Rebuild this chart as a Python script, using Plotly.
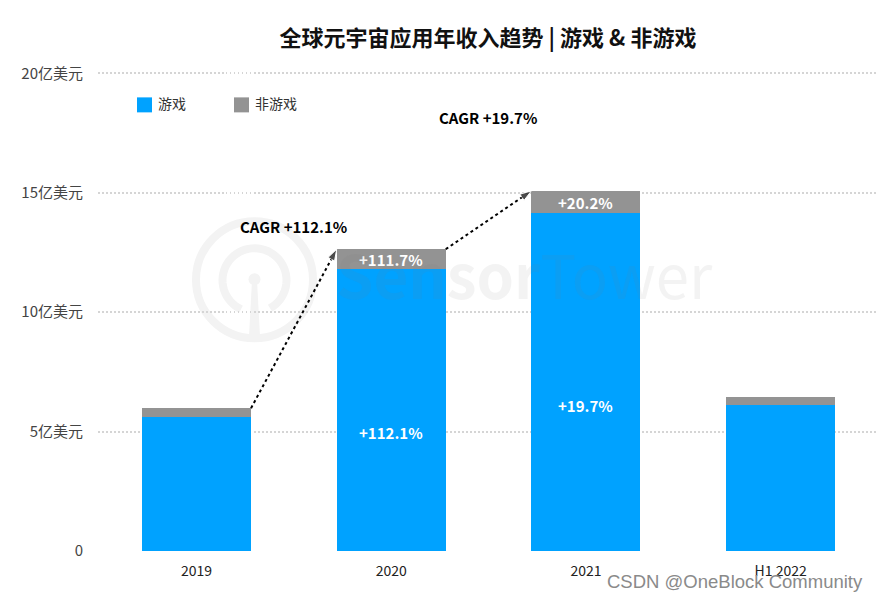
import math
import plotly.graph_objects as go

categories = ["2019", "2020", "2021", "H1 2022"]
games = [5.6, 11.8, 14.14, 6.1]
non_games = [0.38, 0.84, 0.94, 0.36]
totals = [g + n for g, n in zip(games, non_games)]
ytick_vals = [0, 5, 10, 15, 20]
ytick_text = ["0", "5亿美元", "10亿美元", "15亿美元", "20亿美元"]

BLUE = "#00a2ff"
GREY = "#939393"
FONT = "Noto Sans CJK SC"
MARK = "#f3f3f3"
BAR_W = 0.56
TOP = 70.6
xs = list(range(len(categories)))


# 像素位置换算成 paper 坐标
def px(v):
    return (v - 98) / 780


def py(v):
    return (551 - v) / (551 - TOP)


def ring_path(cx, cy, r, start, end):
    pts = [(cx + r * math.cos(math.radians(a)), cy + r * math.sin(math.radians(a)))
           for a in range(start, end + 1, 6)]
    return "M" + " L".join(f"{px(x):.5f},{py(y):.5f}" for x, y in pts)


fig = go.Figure()
fig.add_bar(x=xs, y=games, marker_color=BLUE, marker_line_width=0, width=BAR_W, showlegend=False)
fig.add_bar(x=xs, y=non_games, marker_color=GREY, marker_line_width=0, width=BAR_W, showlegend=False)

# 虚线箭头
for i in (0, 1):
    fig.add_scatter(x=[i + BAR_W / 2, i + 1 - BAR_W / 2], y=[totals[i], totals[i + 1]],
                    mode="lines+markers", showlegend=False, hoverinfo="skip",
                    line=dict(color="black", width=2, dash="3px,3px"),
                    marker=dict(symbol="arrow", angleref="previous", size=[0, 12], color="black"))

# 柱内标签
for x, y, t in [(1, 4.98, "+112.1%"), (2, 6.11, "+19.7%"),
                (1, games[1] + non_games[1] / 2, "+111.7%"), (2, games[2] + non_games[2] / 2, "+20.2%")]:
    fig.add_annotation(x=x, y=y, text=f"<b>{t}</b>", showarrow=False,
                       font=dict(family=FONT, size=15, color="white"))

for x, y, t in [(0.5, 13.6, "CAGR +112.1%"), (1.495, 18.16, "CAGR +19.7%")]:
    fig.add_annotation(x=x, y=y, text=f"<b>{t}</b>", showarrow=False,
                       font=dict(family=FONT, size=15, color="black"))

# 图例
for x0, color, name in [(137, BLUE, "游戏"), (234, GREY, "非游戏")]:
    fig.add_shape(type="rect", xref="paper", yref="paper", x0=px(x0), x1=px(x0 + 15), y0=py(112), y1=py(97),
                  fillcolor=color, line_width=0)
    fig.add_annotation(xref="paper", yref="paper", x=px(x0 + 19), y=py(103), text=name, xanchor="left",
                       yanchor="middle", showarrow=False, font=dict(family=FONT, size=14, color="#333333"))

# SensorTower 水印
fig.add_annotation(xref="paper", yref="paper", x=px(524), y=py(272), yanchor="middle", text="<b>Sensor</b>Tower",
                   showarrow=False, font=dict(family=FONT, size=60, color="rgba(120,120,120,0.09)"))
fig.add_shape(type="circle", xref="paper", yref="paper", layer="below", x0=px(196), x1=px(313), y0=py(338), y1=py(221),
              line=dict(color=MARK, width=8))
fig.add_shape(type="path", xref="paper", yref="paper", layer="below", path=ring_path(254.5, 280, 32, 115, 425),
              line=dict(color=MARK, width=8))
fig.add_shape(type="circle", xref="paper", yref="paper", layer="below", x0=px(248.5), x1=px(260.5), y0=py(285), y1=py(273),
              fillcolor=MARK, line_width=0)
fig.add_shape(type="path", xref="paper", yref="paper", layer="below",
              path=f"M{px(252)},{py(280)} L{px(257)},{py(280)} L{px(260)},{py(336)} L{px(249)},{py(336)} Z",
              fillcolor=MARK, line_width=0)

fig.add_annotation(xref="paper", yref="paper", x=px(865), y=py(582), xanchor="right", yanchor="middle",
                   text="CSDN @OneBlock Community", showarrow=False,
                   font=dict(family="Liberation Sans", size=18.5, color="#8a8a8a"))

fig.update_layout(
    title=dict(text="<b>全球元宇宙应用年收入趋势 | 游戏 & 非游戏</b>", x=488 / 878, xanchor="center",
               y=1 - 38 / 601, yanchor="middle", font=dict(family=FONT, size=22, color="#111111")),
    barmode="stack", width=878, height=601,
    margin=dict(l=98, r=0, t=TOP, b=50),
    paper_bgcolor="white", plot_bgcolor="white",
    font=dict(family=FONT, size=14, color="#333333"),
    showlegend=False,
)
fig.update_xaxes(range=[-0.506, 3.5], tickvals=xs, ticktext=categories, showgrid=False, zeroline=False,
                 showline=False, ticks="", tickfont=dict(size=14, color="#222222"), ticklabelstandoff=10)
# 上限略高于20，顶部的网格线才会画出来
fig.update_yaxes(range=[0, 20.1], tickvals=ytick_vals, ticktext=ytick_text, zeroline=False, showline=False,
                 gridcolor="#d5d5d5", griddash="1.5px,2.5px", gridwidth=1.5, ticks="", ticklabelstandoff=14,
                 tickfont=dict(size=15, color="#444444"))

fig.write_html("out.html", config=dict(displayModeBar=False), post_script="document.body.style.margin='0';")
